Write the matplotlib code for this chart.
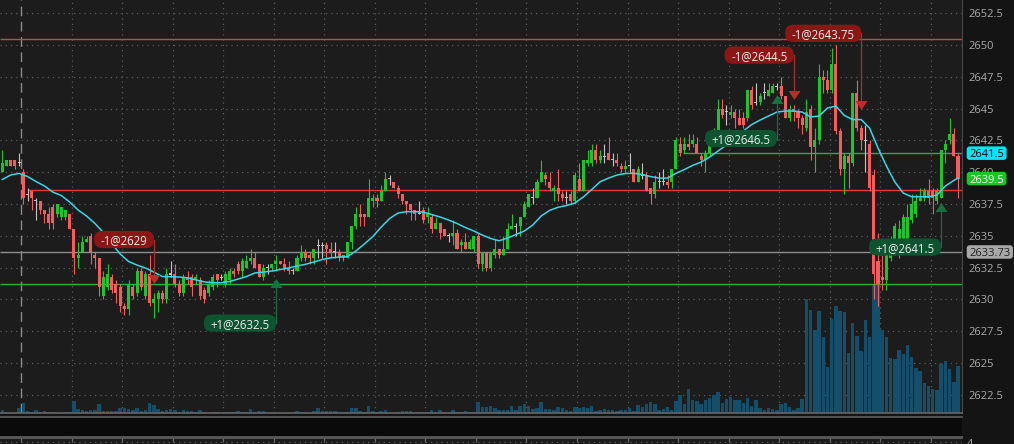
import matplotlib
matplotlib.use("Agg")
import matplotlib.pyplot as plt
import numpy as np
from matplotlib.transforms import blended_transform_factory, IdentityTransform, ScaledTranslation
from matplotlib.collections import LineCollection
from matplotlib.patches import FancyBboxPatch

plt.rcParams['font.family'] = ['Open Sans', 'DejaVu Sans']

# ---------------- data ----------------
opens = [
 2640.0, 2640.5, 2641.0, 2641.0, 2640.75, 2640.0, 2638.25, 2638.5, 2637.75, 2637.75,
 2637.0, 2636.75, 2637.25, 2636.75, 2636.5, 2636.5, 2636.75, 2635.5, 2633.25, 2633.75,
 2634.5, 2635.0, 2633.5, 2633.25, 2630.25, 2631.0, 2631.75, 2631.25, 2631.0, 2629.5,
 2629.25, 2631.0, 2630.5, 2632.25, 2630.25, 2632.0, 2629.75, 2630.0, 2630.5, 2630.0,
 2632.0, 2632.0, 2631.25, 2630.5, 2631.75, 2631.75, 2631.5, 2631.5, 2630.75, 2630.5,
 2631.0, 2632.0, 2631.75, 2631.25, 2631.5, 2632.25, 2632.75, 2632.25, 2632.5, 2633.0,
 2633.25, 2632.75, 2631.75, 2632.5, 2632.5, 2632.75, 2633.0, 2632.75, 2632.5, 2632.25,
 2632.25, 2633.25, 2633.75, 2633.5, 2633.25, 2634.25, 2634.25, 2634.25, 2634.0, 2633.75,
 2633.75, 2633.5, 2633.25, 2634.5, 2635.75, 2636.75, 2636.75, 2636.5, 2637.75, 2638.0,
 2637.75, 2638.5, 2639.5, 2639.25, 2638.75, 2638.25, 2637.75, 2637.5, 2637.0, 2636.75,
 2637.0, 2636.5, 2636.5, 2635.5, 2636.0, 2635.5, 2635.0, 2635.0, 2635.25, 2634.25,
 2634.5, 2634.0, 2634.0, 2635.0, 2632.75, 2633.75, 2632.5, 2633.5, 2634.0, 2633.5,
 2634.0, 2635.5, 2635.75, 2635.75, 2636.5, 2637.25, 2638.0, 2638.0, 2639.25, 2639.75,
 2639.25, 2638.5, 2638.75, 2638.25, 2638.0, 2638.25, 2637.75, 2639.5, 2638.5, 2640.75,
 2640.75, 2641.75, 2641.0, 2641.25, 2641.5, 2641.0, 2641.0, 2640.5, 2640.25, 2640.5,
 2640.25, 2639.25, 2639.75, 2639.75, 2638.75, 2638.25, 2639.25, 2639.25, 2639.25, 2639.25,
 2640.25, 2642.25, 2641.75, 2642.25, 2642.25, 2642.25, 2641.25, 2641.0, 2641.5, 2642.5,
 2643.25, 2645.0, 2644.75, 2644.5, 2644.75, 2644.25, 2644.25, 2644.25, 2646.5, 2645.5,
 2645.5, 2646.25, 2646.0, 2646.25, 2646.75, 2646.75, 2646.0, 2644.25, 2645.0, 2644.75,
 2644.25, 2643.5, 2645.0, 2642.0, 2642.5, 2647.5, 2647.25, 2646.5, 2648.5, 2643.25,
 2640.25, 2641.25, 2640.75, 2646.25, 2643.5, 2642.5, 2642.25, 2639.75, 2633.0, 2631.75,
 2631.5, 2633.25, 2633.75, 2634.25, 2634.75, 2634.75, 2636.25, 2636.75, 2637.75, 2638.0,
 2638.5, 2638.5, 2637.75, 2638.0, 2641.75, 2642.5, 2643.0, 2641.25]

highs = [
 2641.75, 2641.0, 2641.0, 2641.0, 2641.5, 2640.25, 2638.75, 2638.5, 2638.0, 2637.75,
 2637.0, 2637.25, 2637.5, 2637.5, 2637.25, 2637.0, 2636.75, 2635.5, 2634.5, 2635.0,
 2635.0, 2635.25, 2633.75, 2633.25, 2632.25, 2632.75, 2632.0, 2631.5, 2631.25, 2629.75,
 2631.5, 2631.25, 2632.5, 2632.5, 2632.25, 2633.5, 2630.5, 2630.75, 2630.75, 2632.5,
 2633.0, 2632.75, 2631.5, 2632.0, 2632.25, 2632.0, 2632.0, 2631.75, 2631.0, 2631.5,
 2632.0, 2632.0, 2632.0, 2632.25, 2632.5, 2632.5, 2633.0, 2633.25, 2633.5, 2634.0,
 2633.75, 2632.75, 2632.75, 2632.75, 2632.75, 2633.5, 2633.0, 2633.25, 2633.0, 2632.5,
 2633.5, 2634.25, 2634.0, 2633.75, 2634.0, 2634.75, 2634.5, 2634.5, 2634.5, 2634.5,
 2634.0, 2633.5, 2634.5, 2635.75, 2637.25, 2637.5, 2636.75, 2639.5, 2638.25, 2638.25,
 2639.0, 2640.0, 2639.75, 2639.25, 2639.0, 2638.25, 2637.75, 2637.5, 2637.0, 2637.75,
 2637.25, 2637.25, 2636.75, 2636.5, 2636.0, 2635.5, 2635.25, 2636.25, 2635.5, 2634.75,
 2635.25, 2634.75, 2635.0, 2635.25, 2633.75, 2633.75, 2633.75, 2634.75, 2634.0, 2635.0,
 2636.0, 2636.75, 2636.0, 2636.5, 2637.75, 2638.25, 2638.75, 2639.5, 2641.0, 2640.0,
 2640.0, 2639.0, 2640.25, 2638.5, 2638.5, 2638.5, 2640.0, 2640.75, 2641.0, 2641.75,
 2642.25, 2642.25, 2641.75, 2642.25, 2642.75, 2641.5, 2641.5, 2640.75, 2641.0, 2641.5,
 2640.25, 2640.5, 2640.75, 2640.0, 2638.75, 2639.75, 2640.0, 2640.25, 2639.75, 2640.25,
 2642.75, 2642.75, 2642.75, 2643.0, 2643.0, 2642.75, 2641.5, 2641.75, 2642.75, 2643.5,
 2645.75, 2645.75, 2645.25, 2645.25, 2645.0, 2645.0, 2644.75, 2646.5, 2646.75, 2647.0,
 2646.25, 2647.0, 2647.0, 2647.0, 2647.0, 2647.5, 2646.0, 2645.25, 2645.25, 2645.0,
 2644.5, 2645.75, 2645.25, 2643.5, 2648.5, 2648.0, 2648.0, 2649.75, 2650.0, 2643.5,
 2641.5, 2641.5, 2646.25, 2647.25, 2643.75, 2643.75, 2642.5, 2640.25, 2635.25, 2633.5,
 2634.25, 2635.0, 2636.0, 2636.25, 2636.75, 2637.5, 2638.25, 2638.25, 2638.75, 2638.75,
 2639.5, 2638.75, 2638.75, 2641.75, 2642.5, 2644.25, 2643.5, 2641.5]

lows = [
 2640.0, 2640.5, 2640.5, 2640.25, 2640.5, 2637.5, 2637.75, 2637.0, 2636.25, 2636.75,
 2636.0, 2635.5, 2635.5, 2636.5, 2636.25, 2636.25, 2635.5, 2632.0, 2632.5, 2633.75,
 2634.5, 2632.75, 2632.5, 2630.25, 2630.0, 2630.75, 2630.5, 2629.75, 2629.0, 2628.75,
 2628.75, 2630.0, 2630.25, 2630.75, 2630.0, 2629.5, 2628.5, 2629.0, 2629.75, 2629.75,
 2631.75, 2631.0, 2630.25, 2630.25, 2631.25, 2630.25, 2631.25, 2630.0, 2629.75, 2630.25,
 2630.75, 2631.0, 2631.5, 2631.0, 2631.25, 2631.75, 2632.0, 2631.75, 2632.5, 2632.75,
 2632.5, 2631.75, 2631.5, 2632.0, 2632.25, 2632.25, 2632.75, 2632.25, 2632.0, 2632.0,
 2632.25, 2633.0, 2633.0, 2632.75, 2632.75, 2633.25, 2633.25, 2632.75, 2633.25, 2633.25,
 2633.0, 2633.0, 2633.25, 2634.0, 2635.5, 2635.75, 2635.75, 2636.5, 2637.25, 2637.25,
 2637.75, 2638.5, 2639.0, 2638.75, 2638.0, 2637.5, 2636.75, 2636.25, 2636.25, 2636.75,
 2636.0, 2636.0, 2635.25, 2635.5, 2634.75, 2635.0, 2634.5, 2634.25, 2634.0, 2633.75,
 2634.0, 2634.0, 2633.75, 2632.5, 2632.25, 2632.25, 2632.25, 2633.25, 2633.25, 2633.5,
 2634.0, 2635.5, 2635.0, 2635.0, 2636.5, 2637.25, 2637.5, 2638.0, 2639.25, 2639.0,
 2638.5, 2637.75, 2637.75, 2637.75, 2637.5, 2637.5, 2637.5, 2638.5, 2638.5, 2640.5,
 2640.5, 2640.75, 2640.75, 2640.75, 2641.0, 2640.5, 2640.5, 2640.0, 2640.0, 2640.0,
 2639.25, 2639.25, 2639.5, 2638.5, 2637.5, 2638.0, 2638.75, 2639.0, 2638.75, 2638.75,
 2640.25, 2641.25, 2641.5, 2641.75, 2642.0, 2641.5, 2640.5, 2640.0, 2641.25, 2642.25,
 2643.0, 2644.25, 2643.75, 2644.25, 2643.5, 2643.75, 2643.5, 2644.0, 2645.0, 2645.25,
 2645.25, 2645.75, 2646.0, 2646.25, 2646.5, 2645.75, 2644.25, 2644.0, 2644.0, 2643.5,
 2643.0, 2643.25, 2641.0, 2640.0, 2642.25, 2646.25, 2646.25, 2646.25, 2643.0, 2639.75,
 2638.25, 2638.75, 2640.5, 2643.25, 2641.75, 2640.0, 2638.5, 2630.0, 2629.5, 2630.75,
 2630.75, 2633.0, 2633.5, 2633.25, 2634.25, 2634.5, 2636.0, 2636.5, 2637.75, 2637.75,
 2637.5, 2636.75, 2637.5, 2638.0, 2640.75, 2642.25, 2641.25, 2638.0]

closes = [
 2640.75, 2641.0, 2640.5, 2640.5, 2640.75, 2638.0, 2638.25, 2638.0, 2637.75, 2637.0,
 2636.75, 2636.0, 2636.0, 2637.5, 2637.25, 2637.0, 2635.5, 2633.25, 2633.5, 2634.5,
 2634.75, 2633.75, 2633.25, 2631.0, 2631.75, 2632.0, 2630.75, 2630.5, 2629.5, 2629.25,
 2631.25, 2630.25, 2632.25, 2631.0, 2632.0, 2629.75, 2630.0, 2630.5, 2630.0, 2632.0,
 2632.0, 2631.25, 2630.5, 2631.75, 2631.5, 2631.0, 2631.75, 2630.25, 2630.0, 2631.25,
 2631.75, 2631.5, 2631.75, 2632.0, 2632.25, 2632.0, 2632.25, 2633.0, 2633.0, 2633.25,
 2632.5, 2631.75, 2632.5, 2632.5, 2632.75, 2633.0, 2632.75, 2632.5, 2632.25, 2632.25,
 2633.25, 2633.75, 2633.25, 2633.25, 2634.0, 2634.25, 2634.25, 2634.0, 2633.75, 2633.75,
 2633.25, 2633.25, 2634.5, 2635.75, 2636.75, 2636.5, 2636.5, 2638.0, 2638.0, 2637.75,
 2638.5, 2639.5, 2639.5, 2638.75, 2638.25, 2637.75, 2637.5, 2637.0, 2636.75, 2636.75,
 2636.25, 2636.75, 2635.5, 2636.0, 2635.25, 2635.0, 2635.0, 2635.25, 2634.0, 2634.5,
 2634.0, 2634.5, 2635.0, 2632.75, 2633.75, 2632.5, 2633.75, 2634.0, 2633.5, 2634.0,
 2635.5, 2635.75, 2635.75, 2636.5, 2637.5, 2638.25, 2638.0, 2639.25, 2640.0, 2639.5,
 2638.75, 2638.75, 2638.25, 2638.0, 2638.0, 2637.75, 2639.75, 2638.5, 2641.0, 2641.0,
 2641.75, 2641.0, 2641.25, 2641.25, 2641.0, 2641.0, 2640.75, 2640.25, 2640.5, 2640.5,
 2639.25, 2640.25, 2639.75, 2638.5, 2638.25, 2639.25, 2639.25, 2639.25, 2639.0, 2640.25,
 2642.5, 2641.5, 2642.25, 2642.0, 2642.5, 2641.5, 2641.0, 2641.5, 2642.5, 2643.25,
 2645.0, 2644.5, 2644.75, 2644.75, 2644.25, 2643.75, 2643.75, 2646.5, 2645.25, 2645.5,
 2646.0, 2646.25, 2646.5, 2646.75, 2646.75, 2646.0, 2644.25, 2645.0, 2644.75, 2644.25,
 2643.75, 2644.75, 2642.0, 2642.5, 2647.5, 2647.25, 2646.5, 2648.5, 2643.25, 2640.25,
 2641.25, 2640.75, 2646.25, 2643.5, 2642.5, 2642.5, 2638.75, 2632.0, 2631.25, 2631.5,
 2634.0, 2634.25, 2635.75, 2635.5, 2636.5, 2636.5, 2637.5, 2637.75, 2638.0, 2638.5,
 2638.0, 2638.0, 2638.5, 2641.75, 2642.25, 2643.0, 2641.25, 2639.5]

volumes = [
 300, 100, 50, 50, 500, 1000, 170, 100, 300, 100,
 200, 100, 100, 50, 50, 100, 100, 1200, 400, 300,
 200, 300, 300, 900, 200, 200, 200, 200, 500, 500,
 400, 300, 500, 200, 300, 1000, 800, 400, 200, 300,
 400, 300, 100, 300, 200, 200, 100, 300, 100, 50,
 100, 100, 50, 100, 100, 100, 200, 100, 100, 400,
 100, 200, 200, 50, 50, 50, 50, 50, 50, 50,
 200, 100, 100, 50, 200, 500, 200, 200, 200, 200,
 100, 100, 100, 500, 500, 200, 100, 700, 200, 100,
 200, 300, 50, 50, 100, 200, 200, 200, 50, 100,
 100, 100, 300, 100, 300, 100, 50, 300, 100, 100,
 200, 100, 100, 1100, 600, 600, 700, 500, 300, 270,
 270, 670, 270, 670, 870, 670, 370, 470, 1070, 370,
 370, 270, 570, 470, 270, 170, 570, 470, 570, 500,
 670, 170, 270, 370, 270, 270, 170, 270, 270, 470,
 170, 770, 570, 870, 1070, 870, 270, 370, 570, 270,
 1170, 1770, 870, 2370, 1270, 1170, 870, 1270, 1470, 1770,
 2070, 970, 1370, 1570, 1270, 1270, 970, 1470, 670, 1270,
 470, 270, 470, 370, 270, 870, 970, 570, 270, 470,
 1370, 11370, 10270, 8270, 10170, 7570, 4570, 9370, 10670, 10170,
 10070, 5970, 8970, 7670, 6170, 9270, 7570, 12770, 12900, 8270,
 7570, 5470, 5370, 6270, 5870, 6770, 5570, 4470, 4170, 2970,
 2670, 2370, 2270, 4870, 5170, 4370, 3070, 4670]

# moving average, at every second bar (+ the last bar)
ma_bar = list(range(0, 227, 2)) + [227]
ma_values = [
 2639.43, 2639.78, 2639.91, 2639.66, 2639.27, 2638.92, 2638.44, 2638.17, 2637.66, 2637.03,
 2636.56, 2635.97, 2635.26, 2634.39, 2633.57, 2632.98, 2632.70, 2632.47, 2632.15, 2631.80,
 2631.78, 2631.76, 2631.70, 2631.53, 2631.38, 2631.31, 2631.31, 2631.41, 2631.60, 2631.80,
 2632.08, 2632.15, 2632.23, 2632.35, 2632.47, 2632.63, 2632.76, 2632.94, 2633.14, 2633.27,
 2633.33, 2633.37, 2633.81, 2634.36, 2634.94, 2635.69, 2636.36, 2636.79, 2636.90, 2636.90,
 2636.87, 2636.67, 2636.48, 2636.24, 2635.97, 2635.65, 2635.38, 2635.06, 2634.79, 2634.61,
 2634.83, 2635.10, 2635.38, 2635.85, 2636.56, 2637.00, 2637.24, 2637.38, 2637.58, 2638.05,
 2638.64, 2639.25, 2639.54, 2639.78, 2639.90, 2639.91, 2639.82, 2639.66, 2639.54, 2639.54,
 2639.91, 2640.21, 2640.54, 2640.80, 2641.19, 2641.67, 2642.14, 2642.69, 2643.24, 2643.75,
 2644.10, 2644.42, 2644.73, 2644.81, 2644.81, 2644.73, 2644.34, 2644.42, 2645.05, 2645.20,
 2644.46, 2644.14, 2644.14, 2643.47, 2641.90, 2640.49, 2639.23, 2638.36, 2638.07, 2638.07,
 2638.07, 2638.21, 2638.92, 2639.35, 2639.54]

price_ticks = [2622.5, 2625, 2627.5, 2630, 2632.5, 2635, 2637.5, 2640,
               2642.5, 2645, 2647.5, 2650, 2652.5]
grid_bars = [4.5 + 12 * k for k in range(19)]
session_break_bar = 4.5

level_prices = [2650.5, 2641.5, 2638.6, 2633.73, 2631.25]
level_start_bar = [None, 161.7, 6.1, None, None]
level_colors = ['#e33b3b', '#22b23c', '#e33b3b', '#8e8e8e', '#22b23c']

trade_bar = [36, 65, 184, 188, 204, 223]
trade_text = ['-1@2629', '+1@2632.5', '+1@2646.5', '-1@2644.5', '-1@2643.75', '+1@2641.5']
trade_side = [-1, 1, 1, -1, -1, 1]
trade_marker_price = [2631.60, 2631.29, 2645.75, 2646.09, 2645.31, 2637.25]
trade_box_price = [2634.71, 2628.14, 2642.65, 2649.21, 2650.92, 2634.12]

last_label_text = ['2641.5', '2639.5', '2633.73']
last_label_price = [2641.5, 2639.5, 2633.73]
last_label_bg = ['#00e6ff', '#1ec328', '#a8a8a8']
last_label_fg = ['#000000', '#ffffff', '#222222']

# ---------------- styling ----------------
UP, DN, DOJI = '#19c72a', '#f65c5c', '#c4c4c4'
VOL = '#134e6a'
BG = '#1c1c1c'
FIGBG = '#141414'
GRID = '#5a5a5a'
TXT = '#aaaaaa'

W, H = 1014, 444
PLOT_W = 962
MAIN_BOT = 413

fig = plt.figure(figsize=(W / 100, H / 100), dpi=100, facecolor=FIGBG)
axv = fig.add_axes([0, 1 - MAIN_BOT / H, PLOT_W / W, MAIN_BOT / H])
axv.set_facecolor(BG)
axp = axv.twinx()
axp.patch.set_visible(False)

n = len(opens)
assert len(highs) == n and len(lows) == n and len(closes) == n and len(volumes) == n
assert len(ma_bar) == len(ma_values)
idx = np.arange(n)

axv.set_xlim(-0.546, 227.95)
axv.set_ylim(0, 41300)
axp.set_ylim(2621.07, 2653.54)
axv.set_autoscale_on(False)
axp.set_autoscale_on(False)

# grid (behind volume)
tr_h = blended_transform_factory(axv.transAxes, axp.transData)
tr_v = blended_transform_factory(axv.transData, axv.transAxes)
axv.add_collection(LineCollection([[(0, t), (1, t)] for t in price_ticks], transform=tr_h,
                                  colors=GRID, linewidths=0.9, linestyles=(0, (1, 3.2)), zorder=0.5),
                   autolim=False)
axv.add_collection(LineCollection([[(x, 0), (x, 1)] for x in grid_bars if x != session_break_bar],
                                  transform=tr_v, colors=GRID, linewidths=0.9,
                                  linestyles=(0, (1, 3.2)), zorder=0.5), autolim=False)
axv.add_collection(LineCollection([[(session_break_bar, 0), (session_break_bar, 1)]],
                                  transform=tr_v, colors='#8a8a8a', linewidths=1.0,
                                  linestyles=(0, (7, 4)), zorder=0.6), autolim=False)

# volume
axv.bar(idx, volumes, width=0.82, color=VOL, linewidth=0, zorder=1)

# horizontal levels
for p, s, colr in zip(level_prices, level_start_bar, level_colors):
    x0 = -0.546 if s is None else s
    axp.plot([x0, 227.95], [p, p], color=colr, lw=1.0, zorder=3, solid_capstyle='butt')

# candles
o = np.array(opens); hi = np.array(highs); lo = np.array(lows); c = np.array(closes)
col = np.where(c > o, UP, np.where(c < o, DN, DOJI))
axp.vlines(idx, lo, hi, colors=col, linewidth=0.8, zorder=4)
bot = np.minimum(o, c)
ht = np.abs(c - o)
doji = ht == 0
ht = np.where(doji, 0.085, ht)
bot = np.where(doji, o - 0.0425, bot)
axp.bar(idx, ht, bottom=bot, width=0.72, color=col, linewidth=0, zorder=5)

# moving average
axp.plot(ma_bar, ma_values, color='#3ad6e6', lw=1.1, zorder=6)

# axes / ticks
axp.set_yticks(price_ticks)
axp.set_yticklabels([f"{t:g}" for t in price_ticks])
axp.tick_params(axis='y', length=0, pad=4.5, labelsize=8, labelcolor=TXT)
axp.tick_params(axis='x', bottom=False, labelbottom=False)
axv.tick_params(left=False, labelleft=False, bottom=False, labelbottom=False)
for sp in axp.spines.values():
    sp.set_visible(False)
for k in ['top', 'left']:
    axv.spines[k].set_visible(False)
axv.spines['right'].set_color('#4a4a4a')
axv.spines['bottom'].set_color('#666666')
axv.spines['bottom'].set_linewidth(1.2)

# lower strips
ax_b1 = fig.add_axes([0, (H - 437) / H, PLOT_W / W, (437 - 417) / H])
ax_b1.set_facecolor('#0a0a0a')
ax_b1.set_xticks([]); ax_b1.set_yticks([])
for k in ['left', 'right']:
    ax_b1.spines[k].set_visible(False)
for k in ['top', 'bottom']:
    ax_b1.spines[k].set_color('#5e5e5e'); ax_b1.spines[k].set_linewidth(1.2)

b2_h = (H - 437.5) + 0.06 * H
ax_b2 = fig.add_axes([0, -0.06, PLOT_W / W, b2_h / H])
ax_b2.set_facecolor(BG)
ax_b2.set_xlim(-0.546, 227.95)
ax_b2.set_ylim(0, b2_h)
ax_b2.set_xticks([]); ax_b2.set_yticks([])
for k in ['left', 'right', 'bottom']:
    ax_b2.spines[k].set_visible(False)
ax_b2.spines['top'].set_color('#5e5e5e'); ax_b2.spines['top'].set_linewidth(1.2)
ax_b2.vlines(grid_bars, b2_h - 4.5, b2_h, colors='#6a6a6a', linewidth=0.9)
ax_b2.axhline(b2_h - 4.6, color=GRID, lw=0.9, ls=(0, (1, 3.2)))
fig.text(967 / W, 1 - 438.5 / H, '4', ha='left', va='top', fontsize=8, color=TXT)

# ---------------- labelled boxes ----------------
renderer = fig.canvas.get_renderer()


def boxed(txt_artist, anchor_y_disp, padx, height, fc, radius, z):
    bb = txt_artist.get_window_extent(renderer)
    patch = FancyBboxPatch((bb.x0 - padx, anchor_y_disp - height / 2), bb.width + 2 * padx, height,
                           boxstyle=f"round,pad=0,rounding_size={radius}",
                           transform=IdentityTransform(), fc=fc, ec='none', zorder=z)
    fig.add_artist(patch)


# trades
for b, t, s, mp, bp in zip(trade_bar, trade_text, trade_side, trade_marker_price, trade_box_price):
    mcol = '#c12a2a' if s < 0 else '#17703f'
    lcol = '#a33232' if s < 0 else '#1f6a3f'
    bcol = '#8c1616' if s < 0 else '#0f5430'
    axp.plot([b, b], [mp, bp], color=lcol, lw=0.9, zorder=7)
    tri = [(-6, 4.5), (6, 4.5), (0, -4.5)] if s < 0 else [(-6, -4.5), (6, -4.5), (0, 4.5)]
    axp.plot([b], [mp], marker=tri, ms=8.6, color=mcol, mec='none', zorder=8, clip_on=False)
    padx = 6.5
    tr = axp.transData + ScaledTranslation(-padx / 100, 0, fig.dpi_scale_trans)
    txt = fig.text(b, bp, t, transform=tr, ha='right', va='center_baseline',
                   fontsize=8.3, color='#ececec', zorder=21)
    ay = axp.transData.transform((b, bp))[1]
    boxed(txt, ay, padx, 17.2, bcol, 8, 20)

# last-value labels on the price axis
tr_lab = blended_transform_factory(fig.transFigure, axp.transData)
for t, p, bg, fg in zip(last_label_text, last_label_price, last_label_bg, last_label_fg):
    txt = fig.text((966.7 + 2.5) / W, p, t, transform=tr_lab, ha='left', va='center_baseline',
                   fontsize=8, color=fg, zorder=21)
    ay = axp.transData.transform((0, p))[1]
    boxed(txt, ay, 2.5, 13.5, bg, 3, 20)

fig.savefig('out.png', dpi=100, facecolor=FIGBG)
